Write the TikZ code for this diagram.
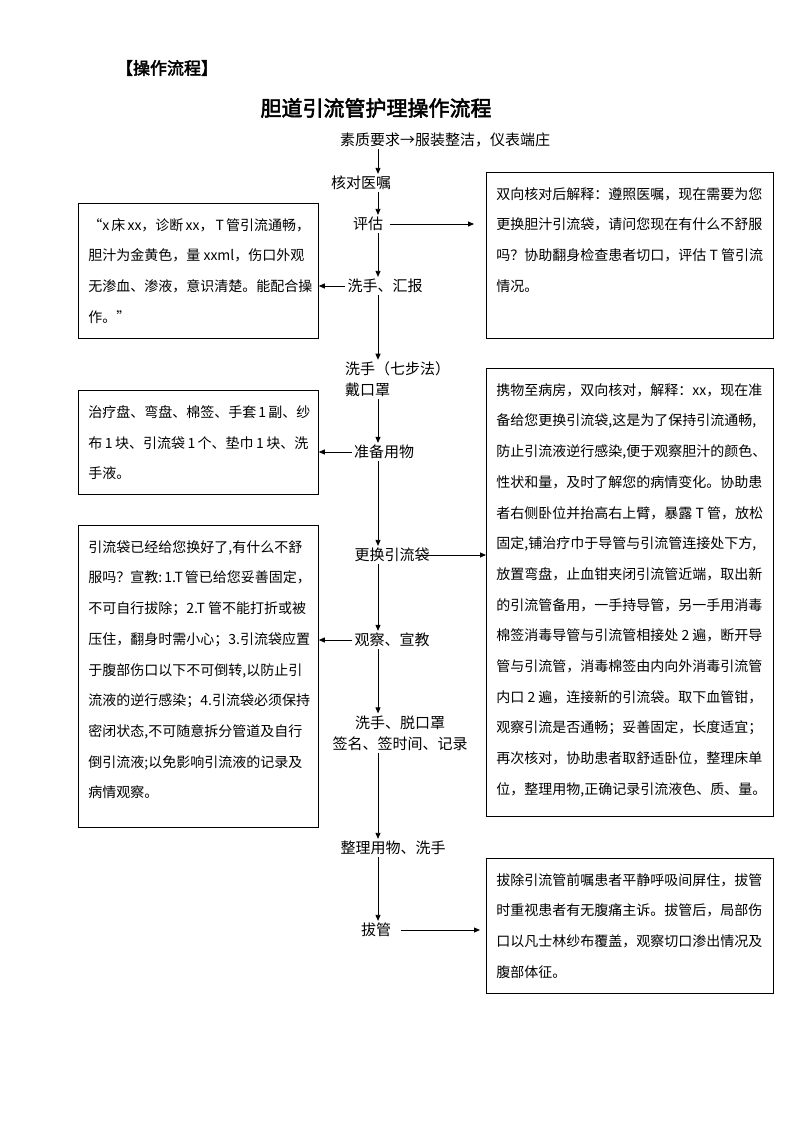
\documentclass[tikz,border=0pt]{standalone}
\usepackage{fontspec}
\setmainfont{Noto Sans CJK SC}
\newfontfamily\cjkbold[FakeBold=2.5]{Noto Sans CJK SC}
\usetikzlibrary{arrows.meta}
\newcommand\mybox[3]{\begin{minipage}[c][#2pt][t]{#1pt}\fontsize{14pt}{30.7pt}\selectfont\raggedright\hbadness=10000\hfuzz=50pt\vspace*{15pt}#3\par\end{minipage}}
\begin{document}
\begin{tikzpicture}[x=1pt,y=1pt,
 arr/.style={-{Triangle[length=6pt,width=5pt]}, line width=0.8pt},
 lbl/.style={font=\fontsize{15pt}{21pt}\selectfont, inner sep=2pt},
 box/.style={draw, line width=0.8pt, anchor=north west, inner xsep=10pt, inner ysep=0pt}]
\fill[white] (0,0) rectangle (794,-1123);
\useasboundingbox (0,0) rectangle (794,-1123);

% headings
\node[font=\cjkbold\fontsize{17pt}{20pt}\selectfont, inner sep=0pt] (hd0) at (167,-68) {【操作流程】};
\node[font=\cjkbold\fontsize{21pt}{24pt}\selectfont, inner sep=0pt] (title) at (376,-108) {胆道引流管护理操作流程};

% main column labels
\coordinate (sp) at (378,0);
\node[lbl] (sz) at (445,-140) {素质要求→服装整洁，仪表端庄};
\node[lbl] (kd) at (361,-183) {核对医嘱};
\node[lbl] (pg) at (368,-224) {评估};
\node[lbl] (xh) at (385,-286) {洗手、汇报};
\node[lbl, align=left, anchor=west] (xs) at (343,-379.5) {洗手（七步法）\\戴口罩};
\node[lbl] (zb) at (384,-452) {准备用物};
\node[lbl] (gh) at (392,-555) {更换引流袋};
\node[lbl] (gc) at (392,-640) {观察、宣教};
\node[lbl, align=center] (xt) at (400,-733) {洗手、脱口罩\\签名、签时间、记录};
\node[lbl] (zl) at (393,-848) {整理用物、洗手};
\node[lbl] (bg) at (376,-930) {拔管};

% side boxes
\node[box] (lb1) at (78,-203) {\mybox{220}{135}{“x~床~xx，诊断~xx，~T~管引流通畅，\\
胆汁为金黄色，量~xxml，伤口外观\\
无渗血、渗液，意识清楚。能配合操\\
作。”}};
\node[box] (rb1) at (486,-172) {\mybox{267}{166}{双向核对后解释：遵照医嘱，现在需要为您\\
更换胆汁引流袋，请问您现在有什么不舒服\\
吗？协助翻身检查患者切口，评估~T~管引流\\
情况。}};
\node[box] (lb2) at (78,-390) {\mybox{220}{104}{治疗盘、弯盘、棉签、手套~1~副、纱\\
布~1~块、引流袋~1~个、垫巾~1~块、洗\\
手液。}};
\node[box] (rb2) at (486,-368) {\mybox{267}{448}{携物至病房，双向核对，解释：xx，现在准\\
备给您更换引流袋,这是为了保持引流通畅,\\
防止引流液逆行感染,便于观察胆汁的颜色、\\
性状和量，及时了解您的病情变化。协助患\\
者右侧卧位并抬高右上臂，暴露~T~管，放松\\
固定,铺治疗巾于导管与引流管连接处下方,\\
放置弯盘，止血钳夹闭引流管近端，取出新\\
的引流管备用，一手持导管，另一手用消毒\\
棉签消毒导管与引流管相接处~2~遍，断开导\\
管与引流管，消毒棉签由内向外消毒引流管\\
内口~2~遍，连接新的引流袋。取下血管钳，\\
观察引流是否通畅；妥善固定，长度适宜；\\
再次核对，协助患者取舒适卧位，整理床单\\
位，整理用物,正确记录引流液色、质、量。}};
\node[box] (lb3) at (78,-525) {\mybox{220}{302}{引流袋已经给您换好了,有什么不舒\\
服吗？宣教:~1.T~管已给您妥善固定，\\
不可自行拔除；2.T~管不能打折或被\\
压住，翻身时需小心；3.引流袋应置\\
于腹部伤口以下不可倒转,以防止引\\
流液的逆行感染；4.引流袋必须保持\\
密闭状态,不可随意拆分管道及自行\\
倒引流液;以免影响引流液的记录及\\
病情观察。}};
\node[box] (rb3) at (486,-858) {\mybox{267}{135}{拔除引流管前嘱患者平静呼吸间屏住，拔管\\
时重视患者有无腹痛主诉。拔管后，局部伤\\
口以凡士林纱布覆盖，观察切口渗出情况及\\
腹部体征。}};

% vertical flow
\draw[arr] (sz.south -| sp) -- (kd.north -| sp);
\draw[arr] (kd.south -| sp) -- (pg.north -| sp);
\draw[arr] (pg.south -| sp) -- (xh.north -| sp);
\draw[arr] (xh.south -| sp) -- (xs.north -| sp);
\draw[arr] (xs.south -| sp) -- (zb.north -| sp);
\draw[arr] (zb.south -| sp) -- (gh.north -| sp);
\draw[arr] (gh.south -| sp) -- (gc.north -| sp);
\draw[arr] (gc.south -| sp) -- (xt.north -| sp);
\draw[arr] (xt.south -| sp) -- (zl.north -| sp);
\draw[arr] (zl.south -| sp) -- (bg.north -| sp);

% side arrows
\draw[arr] ([xshift=5pt]pg.east) -- ([xshift=-12pt]pg.east -| rb1.west);
\draw[arr] (xh.west) -- (xh.west -| lb1.east);
\draw[arr] (zb.west) -- (zb.west -| lb2.east);
\draw[arr] ([xshift=-16pt]gh.east) -- (gh.east -| rb2.west);
\draw[arr] (gc.west) -- (gc.west -| lb3.east);
\draw[arr] ([xshift=8pt]bg.east) -- ([xshift=-6pt]bg.east -| rb3.west);
\end{tikzpicture}
\end{document}
